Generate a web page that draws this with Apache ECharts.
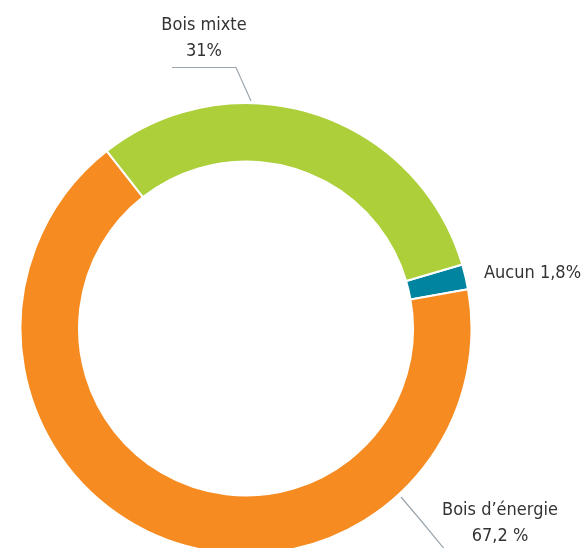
<!DOCTYPE html>
<html>
<head>
<meta charset="utf-8">
<title>Répartition</title>
<script src="https://cdn.jsdelivr.net/npm/echarts@6/dist/echarts.min.js"></script>
<style>
  html, body { margin: 0; padding: 0; background: #ffffff; }
  #chart { width: 585px; height: 548px; }
</style>
</head>
<body>
<div id="chart"></div>
<script>
// Categories in clockwise order, starting just above 3 o'clock
const categories = ['Aucun', 'Bois d\u2019énergie', 'Bois mixte'];
const shares = [1.8, 67.2, 31];
const colors = ['#00849f', '#f68b21', '#accf3a'];
// How each label joins name and value, and how the % sign is spaced
const nameSeparators = [' ', '\n', '\n'];
const percentSpacing = ['', ' ', ''];

const FONT = '"DejaVu Sans Condensed", "Liberation Sans Narrow", sans-serif';

function frNumber(v) {
  return String(v).replace('.', ',');
}

const chart = echarts.init(document.getElementById('chart'), null, { renderer: 'canvas' });

const data = categories.map((name, i) => ({
  name: name,
  value: shares[i],
  itemStyle: { color: colors[i] },
  labelLine: { show: i !== 0 }
}));

// Label placement and leader-line routes, per category index
const labelPlacement = [
  { x: 484, y: 273, align: 'left', line: null },
  { x: 500, y: 523, align: 'center', line: [[401, 497], [423, 523], [446, 551]] },
  { x: 204, y: 38.5, align: 'center', line: [[251, 101], [236, 67.5], [172, 67.5]] }
];

chart.setOption({
  animation: false,
  backgroundColor: '#ffffff',
  series: [{
    type: 'pie',
    center: [246, 328.5],
    radius: [167, 225.5],
    startAngle: 16.5,
    clockwise: true,
    avoidLabelOverlap: false,
    itemStyle: { borderColor: '#ffffff', borderWidth: 2 },
    emphasis: { disabled: true },
    label: {
      show: true,
      position: 'outside',
      color: '#333333',
      fontFamily: FONT,
      fontSize: 18,
      lineHeight: 26,
      formatter: function (p) {
        const i = p.dataIndex;
        return p.name + nameSeparators[i] + frNumber(p.value) + percentSpacing[i] + '%';
      }
    },
    labelLine: {
      show: true,
      lineStyle: { color: '#9ca6ae', width: 1.2 }
    },
    labelLayout: function (params) {
      const pl = labelPlacement[params.dataIndex];
      const out = {
        x: pl.x,
        y: pl.y,
        align: pl.align,
        verticalAlign: 'middle',
        hideOverlap: false,
        moveOverlap: null
      };
      if (pl.line) out.labelLinePoints = pl.line;
      return out;
    },
    data: data
  }]
});
</script>
</body>
</html>
